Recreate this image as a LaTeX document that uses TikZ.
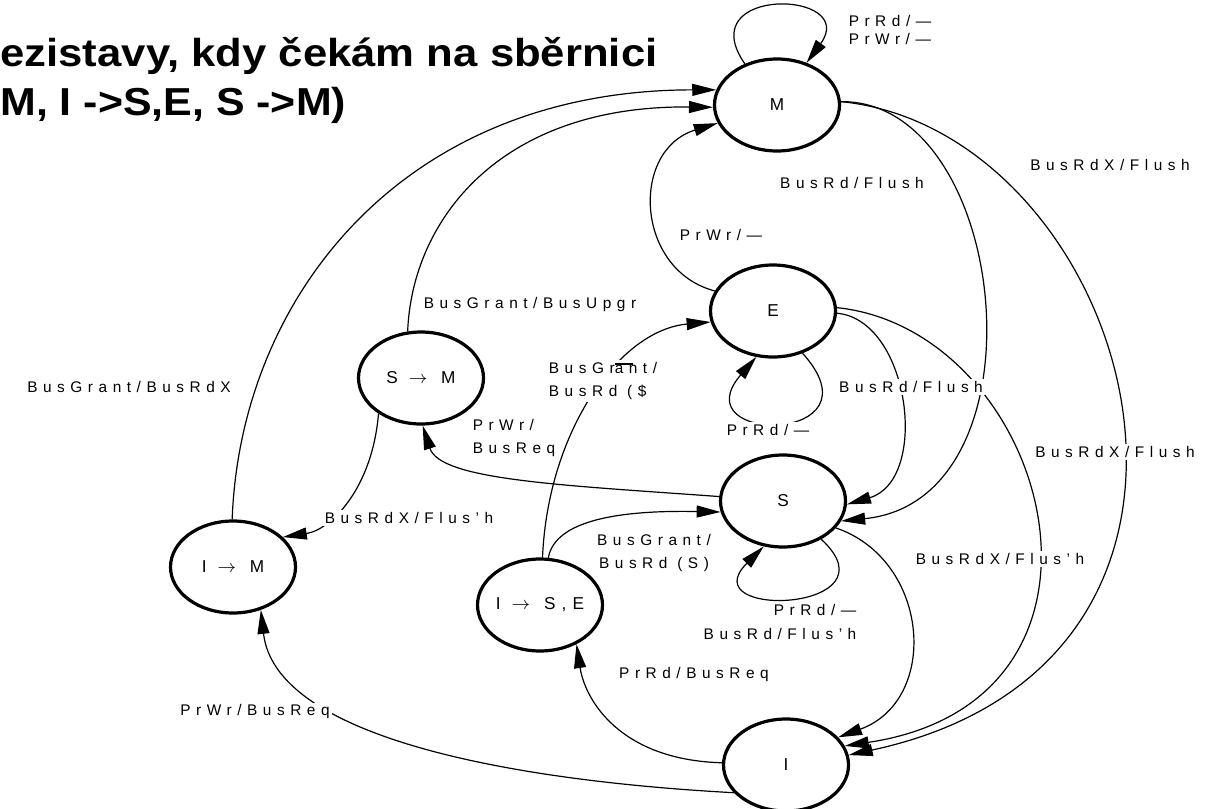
\documentclass[tikz,border=0pt]{standalone}
\usepackage{fontspec}
\setmainfont{Liberation Sans}
\newfontfamily\labfont[LetterSpace=36]{Liberation Sans}
\usetikzlibrary{arrows.meta,shapes.geometric}

\begin{document}
\begin{tikzpicture}[x=0.5pt,y=-0.5pt,
  st/.style={draw, ellipse, line width=1.6pt, minimum width=62.5pt, minimum height=46pt, inner sep=0pt, font=\labfont\fontsize{8.6}{10}\selectfont},
  arr/.style={-{Triangle[length=12pt,width=6pt]}, line width=0.6pt},
  lab/.style={fill=white, inner sep=1pt, font=\labfont\fontsize{7.7}{11.75}\selectfont},
  hd/.style={anchor=base west, inner sep=0pt, font=\bfseries\fontsize{19.5}{24}\selectfont}]
\useasboundingbox (0,0) rectangle (1218,808);
\node[hd] (hd1) at (0,67)  {\scalebox{1.12}[1]{ezistavy, kdy čekám na sběrnici}};
\node[hd] (hd2) at (0,115) {\scalebox{1.1}[1]{M, I ->S,E, S ->M)}};
\node[st] (M)   at (777,105) {M};
\node[st] (E)   at (773,311) {E};
\node[st] (S)   at (783,501) {S};
\node[st] (I)   at (786,765) {I};
\node[st] (SM)  at (421,378) {S $\rightarrow$ \,M};
\node[st] (IM)  at (233,567) {I $\rightarrow$ \,M};
\node[st] (ISE) at (540,605) {I $\rightarrow$ \,S,E};
\draw[arr] (M.128) .. controls (690,-15) and (860,-10) .. (M.55);
\draw[arr] (E.305) .. controls (885,445) and (680,445) .. (E.250);
\draw[arr] (S.315) .. controls (900,612) and (690,620) .. (S.247);
\draw[arr] (IM.91) .. controls (240,300) and (400,90) .. (M.166);
\draw[arr] (SM.106) .. controls (412,220) and (500,105) .. (M.182);
\draw[arr] (E.161) .. controls (635,270) and (630,150) .. (M.197);
\draw[arr] (M.3) .. controls (1010,100) and (1050,500) .. (S.341);
\draw[arr] (M.3) .. controls (1130,130) and (1290,660) .. (I.9);
\draw[arr] (E.358) .. controls (910,320) and (930,480) .. (S.357);
\draw[arr] (E.3) .. controls (1050,330) and (1150,700) .. (I.18);
\draw[arr] (ISE.87) .. controls (548,430) and (620,330) .. (E.190);
\draw[arr] (ISE.80) .. controls (555,520) and (620,510) .. (S.190);
\draw[arr] (S.176) .. controls (560,485) and (440,480) .. (SM.272);
\draw[arr] (SM.220) .. controls (372,490) and (330,530) .. (IM.31);
\draw[arr] (I.208) .. controls (500,780) and (275,735) .. (IM.303);
\draw[arr] (I.178) .. controls (620,760) and (585,700) .. (ISE.313);
\draw[arr] (S.333) .. controls (930,560) and (940,700) .. (I.28);
\node[lab, align=left, font=\labfont\fontsize{7.7}{9}\selectfont] (lM) at (890,30) {PrRd/—\\PrWr/—};
\node[lab] (lMS)  at (852,183)  {BusRd/Flush};
\node[lab] (lMI)  at (1110,165) {BusRdX/Flush};
\node[lab] (lEM)  at (721,235)  {PrWr/—};
\node[lab] (lIMM) at (129,387)  {BusGrant/BusRdX};
\node[lab] (lSMM) at (530,305)  {BusGrant/BusUpgr};
\node[lab, align=left] (lISEE) at (603,381) {BusGr\raisebox{1.05ex}[0pt][0pt]{\rlap{\rule{1.2em}{0.6pt}}}ant/\\BusRd (\$};
\node[lab] (lES)  at (911,387)  {BusRd/Flush};
\node[lab] (lE)   at (768,430)  {PrRd/—};
\node[lab] (lEI)  at (1115,452) {BusRdX/Flush};
\node[lab, align=left] (lSSM) at (514,438) {PrWr/\\BusReq};
\node[lab] (lSMIM) at (409,518) {BusRdX/Flus’h};
\node[lab, align=center] (lISES) at (654,553) {BusGrant/\\BusRd (S)};
\node[lab] (lSI)  at (1000,559) {BusRdX/Flus’h};
\node[lab, align=right] (lS) at (780,622) {PrRd/—\\BusRd/Flus’h};
\node[lab] (lII)  at (694,675)  {PrRd/BusReq};
\node[lab] (lIIM) at (255,712)  {PrWr/BusReq};
\end{tikzpicture}
\end{document}
